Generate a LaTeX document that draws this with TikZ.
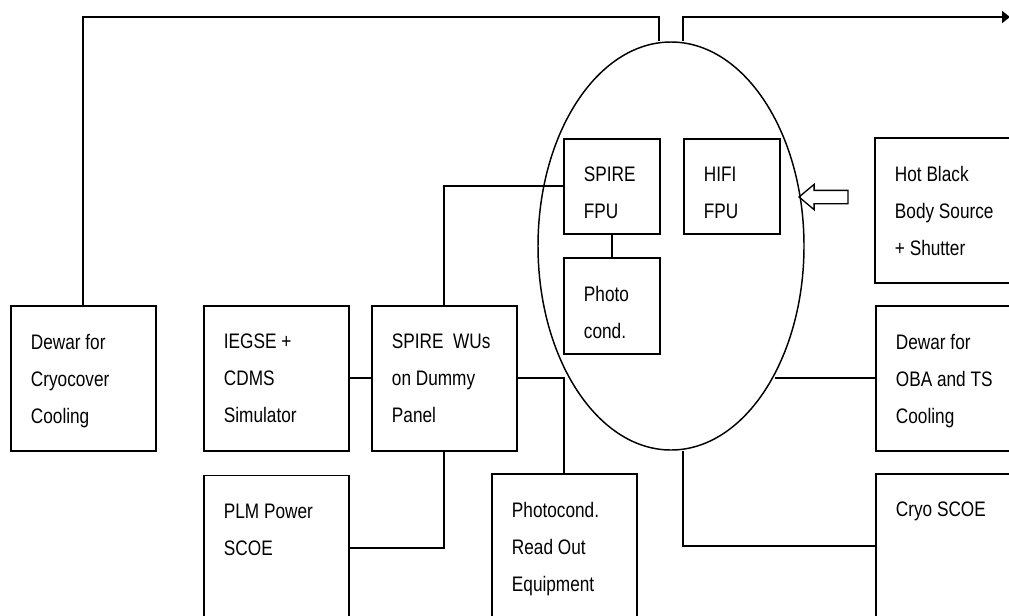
\documentclass[tikz,border=0pt]{standalone}
\usepackage{fontspec}
\newfontfamily\narrowsans{Liberation Sans}[FakeStretch=0.82]
\usetikzlibrary{arrows.meta, positioning, calc, shapes.geometric, shapes.arrows}

\begin{document}
\begin{tikzpicture}[
  x=0.75pt, y=-0.75pt,
  box/.style={rectangle, draw, line width=1.3pt, minimum width=108.75pt, minimum height=108.75pt, inner sep=0pt, anchor=north west},
  sbox/.style={box, minimum width=72pt, minimum height=71.25pt},
  txt/.style={anchor=north west, align=left, inner sep=0pt, xshift=15.5pt, yshift=-21.75pt,
    font=\narrowsans\fontsize{15.75pt}{27.75pt}\selectfont},
  lbox/.style={box, label={[txt]north west:{#1}}},
  lsbox/.style={sbox, label={[txt]north west:{#1}}},
  fpa/.style={ellipse, draw, line width=1.1pt, minimum width=199.5pt, minimum height=306pt, inner sep=0pt},
  hollow/.style={single arrow, draw, line width=1pt, single arrow head extend=4.5pt, single arrow tip angle=80,
    minimum height=36.75pt, inner xsep=0pt, inner ysep=4.5pt, shape border rotate=180},
  wire/.style={draw, line width=1.4pt},
  >={Triangle[length=6pt, width=9pt]}
]
  \useasboundingbox (0,0) rectangle (1009,615);
  \clip (0,0) rectangle (1009,615);

  % focal plane and the units inside it
  \node[fpa] (ell) at (671,246) {};
  \node[lsbox={SPIRE\\FPU}] (spf) at (563,138) {};
  \node[lsbox={HIFI\\FPU}] (hif) at (683,138) {};
  \node[lsbox={Photo\\cond.}, minimum height=72pt] (pho) at (563,257) {};

  % left row
  \node[lbox={Dewar for\\Cryocover\\Cooling}] (dwc) at (10,305) {};
  \node[lbox={IEGSE +\\CDMS\\Simulator}] (ieg) at (203,305) {};
  \node[lbox={SPIRE\ \ WUs\\on Dummy\\Panel}] (wus) at (371,305) {};
  \node[lbox={PLM Power\\SCOE}, below=17.25pt of ieg.south west, anchor=north west] (plm) {};
  \node[lbox={Photocond.\\Read Out\\Equipment}] (pcr) at (491,473) {};

  % right column
  \node[lbox={Hot Black\\Body Source\\+ Shutter}] (hbb) at (874,137) {};
  \node[lbox={Dewar for\\OBA and TS\\Cooling}] (dwo) at (875,305) {};
  \node[lbox={Cryo SCOE}] (cry) at (875,473) {};

  \node[hollow] (heat) at (827.5,197) {};

  % top line
  \coordinate (tl) at (659,17);
  \coordinate (tr) at (683,17);
  \coordinate (tend) at (1010,17);
  \draw[wire] (dwc.north) |- (tl) -- (tl |- ell.north);
  \draw[wire, ->] (tr |- ell.north) -- (tr) -- (tend);

  % harness
  \draw[wire] (spf.west) -| (wus.north);
  \draw[wire] (spf.south) -- (pho.north);
  \draw[wire] (ieg.east) -- (wus.west);
  \draw[wire] (wus.east) -| (pcr.north);
  \draw[wire] (wus.south) |- (plm.east);
  \draw[wire] (dwo.west) -- (ell.-51 |- dwo.west);
  \draw[wire] ($(ell.south)+(12,0)$) |- (cry.west);
\end{tikzpicture}
\end{document}
